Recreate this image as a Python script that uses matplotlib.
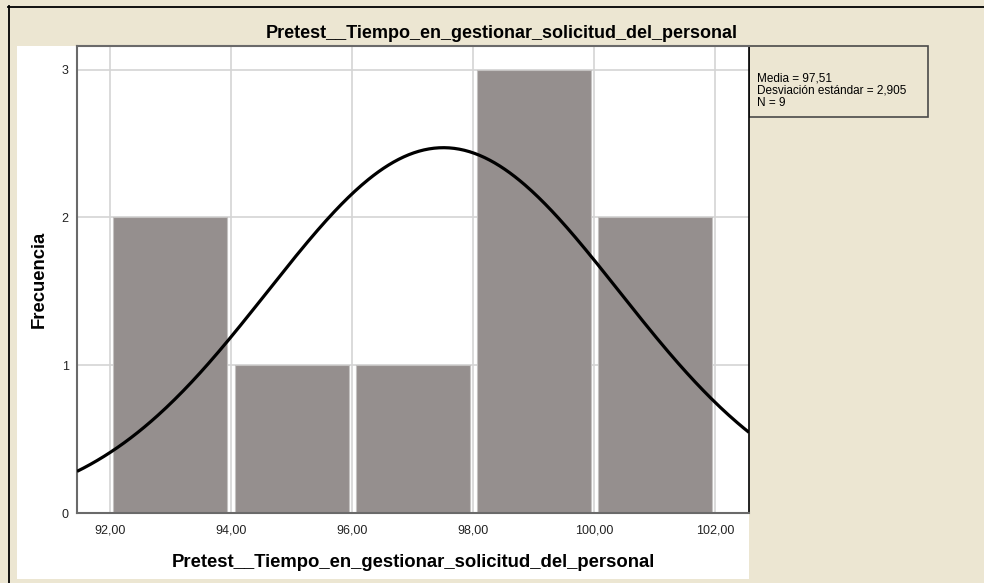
import numpy as np
import matplotlib
matplotlib.use("Agg")
import matplotlib.pyplot as plt
from matplotlib.patches import Rectangle
from matplotlib.lines import Line2D

# ---- data ----
bin_edges = [92.0, 94.0, 96.0, 98.0, 100.0, 102.0]
counts = [2, 1, 1, 3, 2]
mean_val = 97.51
sd_val = 2.905
n_val = 9
x_ticks = [92, 94, 96, 98, 100, 102]
y_ticks = [0, 1, 2, 3]
title = "Pretest__Tiempo_en_gestionar_solicitud_del_personal"
xlabel = "Pretest__Tiempo_en_gestionar_solicitud_del_personal"
ylabel = "Frecuencia"
stats_text = "Media = 97,51\nDesviación estándar = 2,905\nN = 9"

plt.rcParams['font.family'] = ['Liberation Sans', 'DejaVu Sans']

W, H = 984, 583
BG = '#ECE6D2'
fig = plt.figure(figsize=(W / 100, H / 100), dpi=100, facecolor=BG)

def fx(px):
    return px / W

def fy(py):
    return 1 - py / H

# white chart area
fig.patches.append(Rectangle((fx(17), fy(579)), fx(749) - fx(17), fy(46) - fy(579),
                             transform=fig.transFigure, facecolor='white',
                             edgecolor='none', zorder=-10))
# black frame lines (top, left)
fig.lines.append(Line2D([fx(8), 1], [fy(6.5), fy(6.5)], transform=fig.transFigure,
                        color='black', lw=1.3, zorder=-5))
fig.lines.append(Line2D([fx(8.5), fx(8.5)], [0, fy(6)], transform=fig.transFigure,
                        color='black', lw=1.3, zorder=-5))

ax = fig.add_axes([fx(77), fy(513), fx(749) - fx(77), fy(46) - fy(513)])
ax.set_zorder(2)
ax.set_facecolor('white')

centers = [(a + b) / 2 for a, b in zip(bin_edges[:-1], bin_edges[1:])]
widths = [(b - a) - 0.116 for a, b in zip(bin_edges[:-1], bin_edges[1:])]
ax.bar(centers, counts, width=widths, color='#958F8E', edgecolor='#C4C2C1',
       linewidth=0.8, zorder=2)

xlim = (91.455, 102.56)
xs = np.linspace(xlim[0], xlim[1], 400)
binw = bin_edges[1] - bin_edges[0]
ys = n_val * binw / (sd_val * np.sqrt(2 * np.pi)) * np.exp(-0.5 * ((xs - mean_val) / sd_val) ** 2)
ax.plot(xs, ys, color='black', lw=2.3, zorder=3, solid_capstyle='butt')

ax.set_xlim(*xlim)
ax.set_ylim(0, 3.16)
ax.set_xticks(x_ticks)
ax.set_xticklabels([f"{v:.2f}".replace('.', ',') for v in x_ticks])
ax.set_yticks(y_ticks)
ax.set_yticklabels([str(v) for v in y_ticks])
ax.tick_params(axis='x', length=0, pad=8, labelsize=9, colors='#222222')
ax.tick_params(axis='y', length=0, pad=6, labelsize=9, colors='#222222')
ax.grid(True, color='#D4D4D4', lw=1.2, zorder=1)
ax.set_axisbelow(True)

for s in ['left', 'bottom', 'top']:
    ax.spines[s].set_color('#6A6A6A')
    ax.spines[s].set_linewidth(1.5)
ax.spines['right'].set_color('black')
ax.spines['right'].set_linewidth(1.2)

ax.set_xlabel(xlabel, fontsize=13.3, fontweight='bold', labelpad=13)
ax.set_ylabel(ylabel, fontsize=13.3, fontweight='bold', labelpad=10)

# title
fig.text(fx(502), fy(33), title, ha='center', va='center', fontsize=13.0,
         fontweight='bold', color='black')

# stats box
fig.patches.append(Rectangle((fx(749), fy(117)), fx(928) - fx(749), fy(46) - fy(117),
                             transform=fig.transFigure, facecolor=BG,
                             edgecolor='#4A4A4A', lw=1.2, zorder=1))
fig.text(fx(757), fy(90.5), stats_text, ha='left', va='center', fontsize=8.5,
         linespacing=1.05, color='black')

fig.savefig('out.png', dpi=100, facecolor=BG)
